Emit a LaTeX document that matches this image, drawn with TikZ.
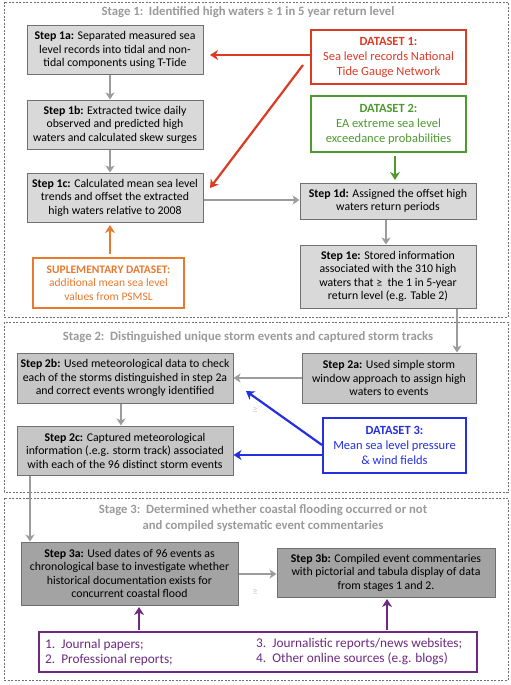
\documentclass[tikz,border=0pt]{standalone}
\usepackage{fontspec}
\setmainfont{Carlito}
\usetikzlibrary{arrows.meta}
\definecolor{fillA}{HTML}{D9D9D9}
\definecolor{fillB}{HTML}{C6C6C6}
\definecolor{fillC}{HTML}{A3A3A3}
\definecolor{bordG}{HTML}{707070}
\definecolor{arrG}{HTML}{9C9C9C}
\definecolor{titleG}{HTML}{9A9A9A}
\definecolor{cRed}{HTML}{DD3A24}
\definecolor{cGreen}{HTML}{4E9A2F}
\definecolor{cBlue}{HTML}{2430E0}
\definecolor{cOrange}{HTML}{E8792D}
\definecolor{cPurple}{HTML}{6D2A80}
\definecolor{stageB}{HTML}{707070}
\begin{document}
\begin{tikzpicture}[x=1pt,y=-1pt,
  every node/.style={font=\fontsize{11.8}{13.5}\selectfont, inner sep=2pt},
  boxA/.style={draw=bordG, line width=1pt, fill=fillA, align=center},
  boxB/.style={draw=bordG, line width=1pt, fill=fillB, align=center},
  boxC/.style={draw=bordG, line width=1pt, fill=fillC, align=center},
  dsbox/.style={draw=#1, line width=2pt, fill=white, text=#1, align=center, font=\fontsize{12.5}{15}\selectfont},
  stagebox/.style={draw=stageB, line width=0.6pt, dash pattern=on 2pt off 1.5pt},
  stagetitle/.style={text=titleG, font=\fontsize{12.7}{16}\selectfont\bfseries, align=center},
  garrow/.style={draw=arrG, line width=2pt, -{Stealth[length=7pt,width=9pt,inset=2pt]}},
  carrow/.style={draw=#1, line width=2.2pt, -{Stealth[length=8pt,width=10pt,inset=2.5pt]}},
  ghost/.style={text=fillB, font=\fontsize{10}{12}\selectfont},
  srctext/.style={text=cPurple, anchor=west, align=left, font=\fontsize{13.3}{15}\selectfont}
]
\useasboundingbox (0,0) rectangle (511,685);
% stage frames
\draw[stagebox] (4,2) rectangle (508,317);
\draw[stagebox] (4,322) rectangle (508,492);
\draw[stagebox] (4,498) rectangle (508,680);
\node[stagetitle] (t1) at (248,12) {Stage 1:\ \ Identified high waters ≥ 1 in 5 year return level};
\node[stagetitle] (t2) at (248,337) {Stage 2:\ \ Distinguished unique storm events and captured storm tracks};
\node[stagetitle] (t3) at (263,518) {Stage 3:\ \ Determined whether coastal flooding occurred or not\\and compiled systematic event commentaries};

% stage 1
\node[boxA, minimum width=176pt, minimum height=48pt] (s1a) at (115,50)
  {\textbf{Step 1a:} Separated measured sea\\level records into tidal and non-\\tidal components using T-Tide};
\node[boxA, minimum width=176pt, minimum height=49pt] (s1b) at (115,124.5)
  {\textbf{Step 1b:} Extracted twice daily\\observed and predicted high\\waters and calculated skew surges};
\node[boxA, minimum width=176pt, minimum height=49pt] (s1c) at (115,197.5)
  {\textbf{Step 1c:} Calculated mean sea level\\trends and offset the extracted\\high waters relative to 2008};
\node[dsbox=cRed, minimum width=155pt, minimum height=54pt] (d1) at (388.5,57)
  {\textbf{DATASET 1:}\\Sea level records National\\Tide Gauge Network};
\node[dsbox=cGreen, minimum width=155pt, minimum height=56pt] (d2) at (388.5,124)
  {\textbf{DATASET 2:}\\EA extreme sea level\\exceedance probabilities};
\node[boxA, minimum width=176pt, minimum height=36pt] (s1d) at (388,201)
  {\textbf{Step 1d:} Assigned the offset high\\waters return periods};
\node[boxA, minimum width=176pt, minimum height=63pt] (s1e) at (388,276.5)
  {\textbf{Step 1e:} Stored information\\associated with the 310 high\\waters that ≥\ \ the 1 in 5-year\\return level (e.g. Table 2)};
\node[dsbox=cOrange, minimum width=151pt, minimum height=50pt, font=\fontsize{11.5}{13.5}\selectfont] (sup) at (108.5,283)
  {\textbf{SUPLEMENTARY DATASET:}\\additional mean sea level\\values from PSMSL};

% stage 2
\node[boxB, minimum width=216pt, minimum height=50pt] (s2b) at (125,378)
  {\textbf{Step 2b:} Used meteorological data to check\\each of the storms distinguished in step 2a\\and correct events wrongly identified};
\node[boxB, minimum width=174pt, minimum height=50pt] (s2a) at (389,378)
  {\textbf{Step 2a:} Used simple storm\\window approach to assign high\\waters to events};
\node[boxB, minimum width=216pt, minimum height=49pt] (s2c) at (125,450.5)
  {\textbf{Step 2c:} Captured meteorological\\information (.e.g. storm track) associated\\with each of the 96 distinct storm events};
\node[dsbox=cBlue, minimum width=143pt, minimum height=55pt] (d3) at (394.5,445.5)
  {\textbf{DATASET 3:}\\Mean sea level pressure\\\& wind fields};

% stage 3
\node[boxC, minimum width=217pt, minimum height=63pt] (s3a) at (129.5,573.5)
  {\textbf{Step 3a:} Used dates of 96 events as\\chronological base to investigate whether\\historical documentation exists for\\concurrent coastal flood};
\node[boxC, minimum width=218pt, minimum height=49pt] (s3b) at (386,572.5)
  {\textbf{Step 3b:} Compiled event commentaries\\with pictorial and tabula display of data\\from stages 1 and 2.};
\node[dsbox=cPurple, minimum width=438pt, minimum height=40pt] (src) at (258,652) {};
\node[srctext] (srcL) at (43,652) {1.\ \ Journal papers;\\2.\ \ Professional reports;};
\node[srctext] (srcR) at (254,652) {3.\ \ Journalistic reports/news websites;\\4.\ \ Other online sources (e.g. blogs)};

\node[ghost] (g1) at (255,410) {≥};
\node[ghost] (g2) at (255,592) {≥};

% helper coordinates
\coordinate (a1end) at (210,55);
\coordinate (d1lo) at (303,65);
\coordinate (a1cend) at (210,188);
\coordinate (greenS) at (395,156);
\coordinate (greenE) at (395,180);
\coordinate (oraS) at (110,254);
\coordinate (oraE) at (110,225);
\coordinate (d3lo) at (322,445);
\coordinate (b2end) at (246,391);
\coordinate (pur1S) at (139,630);
\coordinate (pur1E) at (139,607);
\coordinate (pur2S) at (387,630);
\coordinate (pur2E) at (387,599);

% connectors
\draw[garrow] (s1a.south -| 110,0) -- (s1b.north -| 110,0);
\draw[garrow] (s1b.south -| 110,0) -- (s1c.north -| 110,0);
\draw[carrow=cRed] (d1.west |- a1end) -- (a1end);
\draw[carrow=cRed] (d1lo) -- (a1cend);
\draw[carrow=cGreen] (greenS) -- (greenE);
\draw[garrow] (s1c.east |- 0,200) -- (s1d.west |- 0,200);
\draw[garrow] (s1d.south -| 386,0) -- (s1e.north -| 386,0);
\draw[carrow=cOrange] (oraS) -- (oraE);
\draw[garrow] (s1e.south -| 457,0) -- (s2a.north -| 457,0);
\draw[garrow] (s2a.west |- 0,378) -- (s2b.east |- 0,378);
\draw[garrow] (s2b.south -| 121,0) -- (s2c.north -| 121,0);
\draw[carrow=cBlue] (d3lo) -- (b2end);
\draw[carrow=cBlue] (d3.west |- 0,455) -- (s2c.east |- 0,455);
\draw[garrow] (s2c.south -| 30,0) -- (s3a.north -| 30,0);
\draw[garrow] (s3a.east |- 0,574) -- (s3b.west |- 0,574);
\draw[carrow=cPurple] (pur1S) -- (pur1E);
\draw[carrow=cPurple] (pur2S) -- (pur2E);
\end{tikzpicture}
\end{document}
